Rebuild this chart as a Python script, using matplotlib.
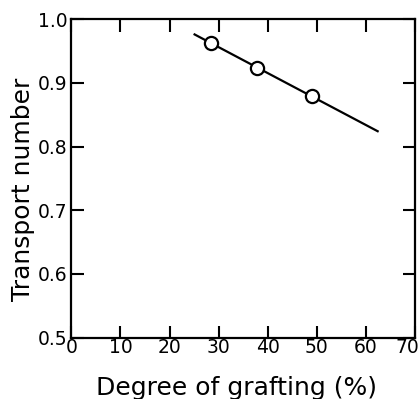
import matplotlib
matplotlib.use("Agg")
import matplotlib.pyplot as plt
import matplotlib.transforms as mtransforms

# --- data ---
grafting = [28.4, 37.8, 49.1]          # degree of grafting (%)
transport = [0.962, 0.923, 0.880]      # transport number
fit_x = [25.1, 62.4]                   # straight line drawn through the points
fit_y = [0.976, 0.824]
x_ticks = [0, 10, 20, 30, 40, 50, 60, 70]
y_ticks = [0.5, 0.6, 0.7, 0.8, 0.9, 1.0]
# -----------------------------------

fig = plt.figure(figsize=(4.2, 3.99), dpi=100)
ax = fig.add_axes([0.170, 0.154, 0.818, 0.798])

ax.plot(fit_x, fit_y, color="black", lw=1.6, zorder=2)
ax.plot(grafting, transport, "o", ms=9.5, mfc="white", mec="black", mew=1.6, zorder=3)

ax.set_xlim(0, 70)
ax.set_ylim(0.5, 1.0)
ax.set_xticks(x_ticks)
ax.set_yticks(y_ticks)
ax.set_xticklabels([str(t) for t in x_ticks])
ax.set_yticklabels([f"{t:.1f}" for t in y_ticks])

ax.tick_params(direction="in", length=9, width=1.5, top=True, right=True,
               labelsize=13.5)
ax.tick_params(axis="x", pad=0)
ax.tick_params(axis="y", pad=3)
# last x label pulled mostly inside the frame, as in the reference
xl = ax.get_xticklabels()
xl[-1].set_horizontalalignment("right")
xl[-1].set_transform(xl[-1].get_transform() +
                     mtransforms.ScaledTranslation(0.04, 0, fig.dpi_scale_trans))
for s in ax.spines.values():
    s.set_linewidth(1.6)

ax.set_xlabel("Degree of grafting (%)", fontsize=18, va="top")
ax.xaxis.set_label_coords(0.48, -0.12)
ax.set_ylabel("Transport number", fontsize=18)
ax.yaxis.set_label_coords(-0.105, 0.467)

fig.savefig("out.png", dpi=100)
